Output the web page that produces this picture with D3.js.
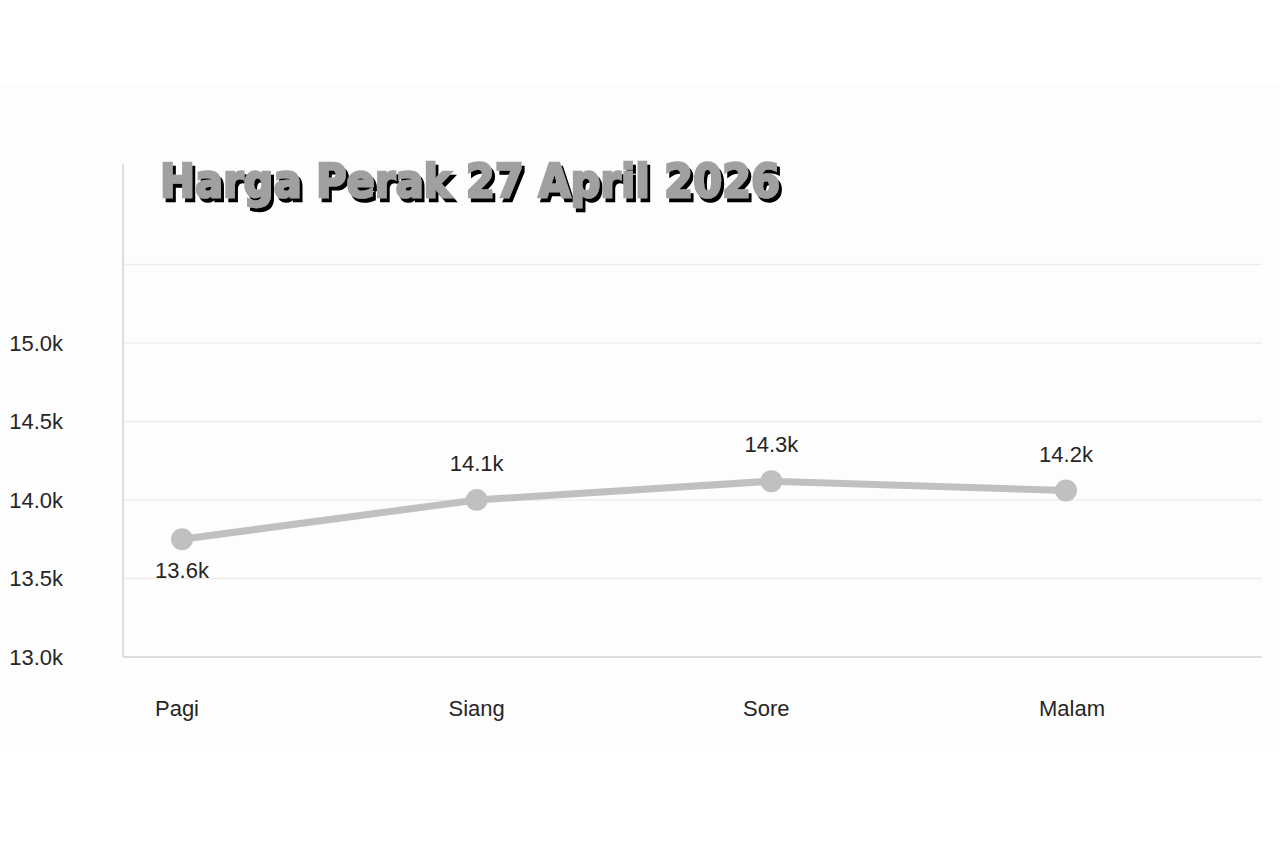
<!DOCTYPE html>
<html>
<head>
<meta charset="utf-8">
<script src="https://cdn.jsdelivr.net/npm/d3@7"></script>
<style>
  html, body { margin: 0; padding: 0; background: #ffffff; }
  svg { display: block; }
  .tick-lbl, .cat-lbl, .val-lbl { font-family: "Liberation Sans", Arial, sans-serif; fill: #262626; }
</style>
</head>
<body>
<div id="chart"></div>
<script>
// Harga perak per waktu hari
var w = 1280, h = 851;

var categories = ["Pagi", "Siang", "Sore", "Malam"];
var prices = [13750, 14000, 14120, 14060];
var priceLabels = ["13.6k", "14.1k", "14.3k", "14.2k"];
var gridValues = [13000, 13500, 14000, 14500, 15000, 15500];
var tickLabels = ["13.0k", "13.5k", "14.0k", "14.5k", "15.0k"];
var title = "Harga Perak 27 April 2026";

var svg = d3.select("#chart").append("svg")
  .attr("width", w).attr("height", h);

// shadow filter for title
var defs = svg.append("defs");
var f = defs.append("filter").attr("id", "shadow")
  .attr("x", "-5%").attr("y", "-20%").attr("width", "110%").attr("height", "150%");
f.append("feOffset").attr("in", "SourceAlpha").attr("dx", 3).attr("dy", 4).attr("result", "off");
f.append("feFlood").attr("flood-color", "#000");
f.append("feComposite").attr("in2", "off").attr("operator", "in").attr("result", "sh");
var fm = f.append("feMerge");
fm.append("feMergeNode").attr("in", "sh");
fm.append("feMergeNode").attr("in", "SourceGraphic");

// panel
svg.append("rect").attr("x", 0).attr("y", 85).attr("width", w).attr("height", 665)
  .attr("fill", "#fefdfd");

var x = d3.scalePoint().domain(categories).range([182, 1066]);
var y = d3.scaleLinear().domain([13000, 16140]).range([657, 164]);

// grid
svg.selectAll("line.grid").data(gridValues.slice(1)).enter().append("line")
  .attr("class", "grid")
  .attr("x1", 123).attr("x2", 1262)
  .attr("y1", function(d) { return y(d); }).attr("y2", function(d) { return y(d); })
  .attr("stroke", "#f0ecec").attr("stroke-width", 1.5);

// axes lines
svg.append("line").attr("x1", 123).attr("x2", 123).attr("y1", y.range()[1]).attr("y2", y(13000))
  .attr("stroke", "#dedcdc").attr("stroke-width", 2);
svg.append("line").attr("x1", 123).attr("x2", 1262).attr("y1", y(13000)).attr("y2", y(13000))
  .attr("stroke", "#dedcdc").attr("stroke-width", 2);

// y tick labels
svg.selectAll("text.tick-lbl").data(tickLabels).enter().append("text")
  .attr("class", "tick-lbl")
  .attr("x", 63).attr("y", function(d, i) { return y(gridValues[i]) + 8; })
  .attr("text-anchor", "end").attr("font-size", 22)
  .text(function(d) { return d; });

// x labels
svg.selectAll("text.cat-lbl").data(categories).enter().append("text")
  .attr("class", "cat-lbl")
  .attr("x", function(d) { return x(d); }).attr("y", 716)
  .attr("text-anchor", "middle").attr("font-size", 22)
  .attr("dx", function(d, i) { return [-5, 0, -5, 6][i]; })
  .text(function(d) { return d; });

// line
var line = d3.line()
  .x(function(d, i) { return x(categories[i]); })
  .y(function(d) { return y(d); });

svg.append("path").datum(prices)
  .attr("d", line)
  .attr("fill", "none").attr("stroke", "#c2bfc0").attr("stroke-width", 7)
  .attr("stroke-linejoin", "round");

svg.selectAll("circle.pt").data(prices).enter().append("circle")
  .attr("class", "pt")
  .attr("cx", function(d, i) { return x(categories[i]); })
  .attr("cy", function(d) { return y(d); })
  .attr("r", 11).attr("fill", "#c2bfc0");

// value labels (first one below)
svg.selectAll("text.val-lbl").data(priceLabels).enter().append("text")
  .attr("class", "val-lbl")
  .attr("x", function(d, i) { return x(categories[i]); })
  .attr("y", function(d, i) { return i == 0 ? y(prices[i]) + 39 : y(prices[i]) - 29; })
  .attr("text-anchor", "middle").attr("font-size", 22)
  .text(function(d) { return d; });

// title
svg.append("text").attr("x", 160).attr("y", 197)
  .attr("font-family", "'DejaVu Sans', sans-serif").attr("font-weight", "bold")
  .attr("font-size", 46).attr("textLength", 620).attr("lengthAdjust", "spacingAndGlyphs")
  .attr("fill", "#a0a0a0").attr("stroke", "#a0a0a0").attr("stroke-width", 2.5)
  .attr("filter", "url(#shadow)")
  .text(title);
</script>
</body>
</html>
